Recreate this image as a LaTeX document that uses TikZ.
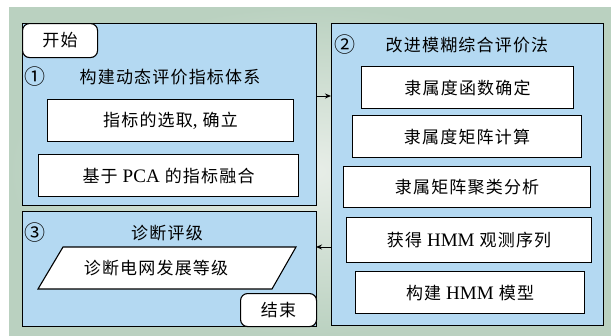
\documentclass[tikz,border=0pt]{standalone}
\usepackage{fontspec}
\setmainfont{Noto Sans CJK SC}[LetterSpace=7]
\newfontfamily\lat{Liberation Serif}[Scale=1.12]
\usetikzlibrary{arrows.meta}
\definecolor{bgout}{RGB}{186,209,192}
\definecolor{bgin}{RGB}{232,238,232}
\definecolor{panelblue}{RGB}{180,217,242}
\tikzset{
  panel/.style={draw=black, line width=1.3pt, fill=panelblue, anchor=north west, inner sep=0pt},
  stepbox/.style={draw=black, line width=1.1pt, fill=white, anchor=north west, inner sep=0pt},
  termbox/.style={draw=black, line width=1.1pt, fill=white, rounded corners=7pt, anchor=north west, inner sep=0pt},
  txt/.style={font=\fontsize{17}{19}\selectfont, inner sep=0pt},
  numtxt/.style={font=\fontsize{21}{23}\selectfont, inner sep=0pt},
  link/.style={draw=black, line width=1pt, -{Stealth[length=6pt,width=5pt]}}
}
\begin{document}
\begin{tikzpicture}[x=1pt,y=-1pt]
\useasboundingbox (0,0) rectangle (611,335);
\shade[inner color=bgin, outer color=bgout] (9,7) rectangle (611,335);
% panels
\node[panel, minimum width=294pt, minimum height=182pt] (p1) at (22,23) {};
\node[panel, minimum width=272pt, minimum height=302pt] (p2) at (331,23) {};
\node[panel, minimum width=294pt, minimum height=115pt] (p3) at (22,211) {};
% start / end
\node[termbox, minimum width=75pt, minimum height=34pt] (start) at (22,23) {};
\node[txt] at (start.center) {开始};
\node[termbox, minimum width=76pt, minimum height=33pt] (stop) at (240,293) {};
\node[txt] at (stop.center) {结束};
% panel 1
\node[numtxt] (n1) at (35,77) {①};
\node[txt] (t1) at (170,77) {构建动态评价指标体系};
\node[stepbox, minimum width=246pt, minimum height=42pt] (b11) at (47,99) {};
\node[txt] at (b11.center) {指标的选取{\lat ,} 确立};
\node[stepbox, minimum width=260pt, minimum height=42pt] (b12) at (38,154) {};
\node[txt] at (b12.center) {基于 {\lat PCA} 的指标融合};
% panel 2
\node[numtxt] (n2) at (345,45) {②};
\node[txt] (t2) at (467,45) {改进模糊综合评价法};
\node[stepbox, minimum width=212pt, minimum height=42pt] (b21) at (361,66) {};
\node[txt] at (b21.center) {隶属度函数确定};
\node[stepbox, minimum width=229pt, minimum height=42pt] (b22) at (352,115) {};
\node[txt] at (b22.center) {隶属度矩阵计算};
\node[stepbox, minimum width=247pt, minimum height=41pt] (b23) at (343,166) {};
\node[txt] at (b23.center) {隶属矩阵聚类分析};
\node[stepbox, minimum width=245pt, minimum height=45pt] (b24) at (346,217) {};
\node[txt] at (b24.center) {获得 {\lat HMM} 观测序列};
\node[stepbox, minimum width=229pt, minimum height=42pt] (b25) at (355,271) {};
\node[txt] at (b25.center) {构建 {\lat HMM} 模型};
% panel 3
\node[numtxt] (n3) at (35,233) {③};
\node[txt] (t3) at (167,233) {诊断评级};
\draw[fill=white, line width=1.1pt] (38,289) -- (63,247) -- (296,247) -- (272,289) -- cycle;
\node[txt] (para) at (156,268) {诊断电网发展等级};
% connectors
\coordinate (a1) at (316,96);
\coordinate (a2) at (331,96);
\coordinate (c1) at (331,247);
\coordinate (c2) at (316,247);
\draw[link] (a1) -- (a2);
\draw[link] (c1) -- (c2);
\end{tikzpicture}
\end{document}
